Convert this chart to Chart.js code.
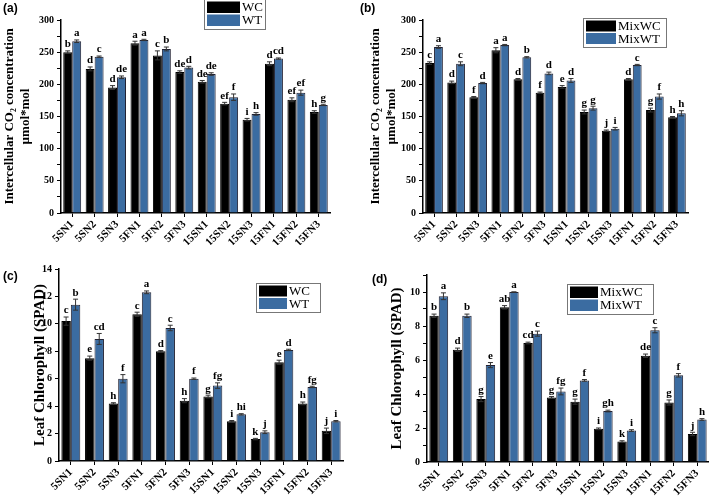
<!DOCTYPE html>
<html>
<head>
<meta charset="utf-8">
<script src="https://cdn.jsdelivr.net/npm/chart.js@4.4.0/dist/chart.umd.min.js"></script>
<style>
body{margin:0;background:#fff;width:709px;height:496px;overflow:hidden;position:relative}
canvas{position:absolute}
.letra{position:absolute;font:bold 12px "Liberation Sans", Arial, sans-serif;color:#000}
</style>
</head>
<body>
<canvas id="g1" width="355" height="245" style="left:0;top:0"></canvas>
<canvas id="g2" width="354" height="245" style="left:355px;top:0"></canvas>
<canvas id="g3" width="355" height="251" style="left:0;top:245px"></canvas>
<canvas id="g4" width="354" height="251" style="left:355px;top:245px"></canvas>
<div class="letra" style="left:3px;top:1px">(a)</div>
<div class="letra" style="left:360px;top:1px">(b)</div>
<div class="letra" style="left:3px;top:269px">(c)</div>
<div class="letra" style="left:372px;top:272px">(d)</div>
<script>
const categorias = ['5SN1','5SN2','5SN3','5FN1','5FN2','5FN3','15SN1','15SN2','15SN3','15FN1','15FN2','15FN3'];

// (a) CO2 intercelular, WC / WT
const ciWC = [250,224,195,264,245,219,204,170,145,232,176,157];
const ciWCerr = [2,3,3,3,7,2,2,2,2,3,3,2];
const ciWCletras = ['b','d','d','a','c','de','de','ef','i','d','ef','h'];
const ciWT = [267,243,211,269,255,226,216,180,154,240,187,168];
const ciWTerr = [2,1,2,1,3,2,2,5,2,1,4,1];
const ciWTletras = ['a','c','de','a','b','d','de','f','h','cd','ef','g'];

// (b) CO2 intercelular, MixWC / MixWT
const ciMixWC = [233,203,180,253,208,187,196,157,128,208,160,149];
const ciMixWCerr = [2,2,1,4,1,1,2,3,1,1,3,1];
const ciMixWCletras = ['c','d','f','a','d','f','e','g','j','d','g','h'];
const ciMixWT = [258,232,202,261,242,217,206,163,131,230,181,155];
const ciMixWTerr = [2,3,1,1,1,2,3,3,2,1,4,4];
const ciMixWTletras = ['a','c','d','a','b','d','d','g','i','c','f','h'];

// (c) clorofila, WC / WT
const clWC = [10.2,7.5,4.2,10.7,8.0,4.4,4.7,2.9,1.6,7.2,4.2,2.2];
const clWCerr = [0.3,0.15,0.05,0.15,0.05,0.15,0.1,0.05,0.05,0.15,0.1,0.2];
const clWCletras = ['c','e','h','c','d','h','g','i','k','e','h','j'];
const clWT = [11.4,8.9,6.0,12.3,9.7,6.0,5.5,3.4,2.1,8.1,5.4,2.9];
const clWTerr = [0.4,0.4,0.3,0.1,0.2,0.05,0.2,0.05,0.1,0.05,0.05,0.05];
const clWTletras = ['b','cd','f','a','c','f','fg','hi','j','d','fg','i'];

// (d) clorofila, MixWC / MixWT
const clMixWC = [8.6,6.6,3.7,9.1,7.0,3.8,3.55,1.95,1.2,6.25,3.5,1.65];
const clMixWCerr = [0.1,0.1,0.15,0.1,0.05,0.05,0.15,0.05,0.05,0.1,0.15,0.1];
const clMixWCletras = ['b','d','g','ab','cd','g','g','i','k','de','g','j'];
const clMixWT = [9.75,8.6,5.7,10.0,7.55,4.15,4.8,3.0,1.85,7.75,5.1,2.5];
const clMixWTerr = [0.2,0.1,0.15,0,0.15,0.2,0.05,0.05,0.05,0.15,0.1,0.05];
const clMixWTletras = ['a','b','e','a','c','fg','f','gh','i','c','f','h'];

const azul = '#3b6ca1';
const serif = '"Liberation Serif", "Times New Roman", serif';

// barras de error y letras encima de cada barra
const pluginErrores = {
    id: 'barrasError',
    afterDatasetsDraw(chart) {
        const ctx = chart.ctx;
        const y = chart.scales.y;
        ctx.save();
        chart.data.datasets.forEach((ds, i) => {
            const meta = chart.getDatasetMeta(i);
            meta.data.forEach((barra, j) => {
                const v = ds.data[j];
                const e = ds.errores[j];
                const arriba = y.getPixelForValue(v + e);
                const abajo = y.getPixelForValue(v - e);
                const x = barra.x;
                ctx.strokeStyle = '#333';
                ctx.lineWidth = 1;
                ctx.beginPath();
                ctx.moveTo(x, arriba); ctx.lineTo(x, abajo);
                ctx.moveTo(x - 2.5, arriba); ctx.lineTo(x + 2.5, arriba);
                ctx.moveTo(x - 2.5, abajo); ctx.lineTo(x + 2.5, abajo);
                ctx.stroke();
                ctx.fillStyle = '#000';
                ctx.font = 'bold 11px ' + serif;
                ctx.textAlign = 'center';
                ctx.textBaseline = 'bottom';
                ctx.fillText(ds.letras[j], x, arriba - 1);
            });
        });
        ctx.restore();
    }
};

// leyenda con marco
const pluginLeyenda = {
    id: 'cajaLeyenda',
    afterDraw(chart, args, op) {
        const ctx = chart.ctx;
        ctx.save();
        ctx.fillStyle = '#fff';
        ctx.fillRect(op.x, op.y, op.w, op.h);
        ctx.strokeStyle = '#777';
        ctx.lineWidth = 1;
        ctx.strokeRect(op.x + 0.5, op.y + 0.5, op.w, op.h);
        const fila = (op.h - 4) / 2;
        chart.data.datasets.forEach((ds, i) => {
            const fy = op.y + 2.5 + i * fila;
            ctx.fillStyle = ds.backgroundColor;
            ctx.fillRect(op.x + 3, fy, op.sw, fila - 1.5);
            ctx.fillStyle = '#000';
            ctx.font = '13px ' + serif;
            ctx.textAlign = 'left';
            ctx.textBaseline = 'middle';
            ctx.fillText(ds.label, op.x + op.sw + 5, fy + fila / 2);
        });
        ctx.restore();
    }
};

function crearGrafica(id, nombres, serieA, serieB, c) {
    const ctx = document.getElementById(id).getContext('2d');
    return new Chart(ctx, {
        type: 'bar',
        data: {
            labels: categorias,
            datasets: [{
                label: nombres[0],
                data: serieA.valores,
                errores: serieA.errores,
                letras: serieA.letras,
                backgroundColor: '#000',
                borderColor: '#000',
                borderWidth: 1,
                categoryPercentage: 0.8,
                barPercentage: 1
            }, {
                label: nombres[1],
                data: serieB.valores,
                errores: serieB.errores,
                letras: serieB.letras,
                backgroundColor: azul,
                borderColor: '#223',
                borderWidth: 1,
                categoryPercentage: 0.8,
                barPercentage: 1
            }]
        },
        options: {
            responsive: false,
            animation: false,
            layout: { padding: { top: c.arriba, right: c.derecha, left: 0, bottom: 0 } },
            plugins: {
                legend: { display: false },
                tooltip: { enabled: false },
                cajaLeyenda: c.leyenda
            },
            scales: {
                x: {
                    offset: true,
                    grid: { drawOnChartArea: false, offset: false, tickLength: 4, color: '#000' },
                    border: { color: '#000', width: 1.5 },
                    ticks: {
                        autoSkip: false, minRotation: 45, maxRotation: 45, padding: 1,
                        color: '#000', font: { family: serif, weight: 'bold', size: 11 }
                    },
                    afterFit: function (s) { s.height = c.altoX; }
                },
                y: {
                    min: 0,
                    max: c.max,
                    grid: { drawOnChartArea: false, tickLength: 4, color: '#000' },
                    border: { color: '#000', width: 1.5 },
                    ticks: {
                        stepSize: c.paso,
                        padding: 3,
                        color: '#000',
                        font: { family: serif, weight: 'bold', size: 10 },
                        callback: function (v) { return v % c.cada === 0 ? v : ''; }
                    },
                    title: {
                        display: true,
                        text: c.titulo,
                        color: '#000',
                        font: { family: serif, weight: 'bold', size: c.tamTitulo, lineHeight: 1.2 },
                        padding: { top: c.padTitulo, bottom: 0 }
                    },
                    afterFit: function (s) { s.width = c.anchoY; }
                }
            }
        },
        plugins: [pluginErrores, pluginLeyenda]
    });
}

const tituloCO2 = ['Intercellular CO\u2082 concentration', '\u00b5mol*mol'];
const tituloCl = 'Leaf Chlorophyll (SPAD)';

crearGrafica('g1', ['WC', 'WT'],
    { valores: ciWC, errores: ciWCerr, letras: ciWCletras },
    { valores: ciWT, errores: ciWTerr, letras: ciWTletras },
    { max: 300, paso: 25, cada: 50, titulo: tituloCO2, tamTitulo: 13, padTitulo: 2,
      anchoY: 61, altoX: 32, arriba: 20, derecha: 25,
      leyenda: { x: 204, y: -1, w: 61, h: 30, sw: 33 } });

crearGrafica('g2', ['MixWC', 'MixWT'],
    { valores: ciMixWC, errores: ciMixWCerr, letras: ciMixWCletras },
    { valores: ciMixWT, errores: ciMixWTerr, letras: ciMixWTletras },
    { max: 300, paso: 25, cada: 50, titulo: tituloCO2, tamTitulo: 13, padTitulo: 13,
      anchoY: 68, altoX: 32, arriba: 20, derecha: 21,
      leyenda: { x: 228, y: 18, w: 83, h: 29, sw: 30 } });

crearGrafica('g3', ['WC', 'WT'],
    { valores: clWC, errores: clWCerr, letras: clWCletras },
    { valores: clWT, errores: clWTerr, letras: clWTletras },
    { max: 14, paso: 1, cada: 2, titulo: tituloCl, tamTitulo: 15, padTitulo: 31,
      anchoY: 59, altoX: 35, arriba: 24, derecha: 12,
      leyenda: { x: 256, y: 38, w: 64, h: 29, sw: 28 } });

crearGrafica('g4', ['MixWC', 'MixWT'],
    { valores: clMixWC, errores: clMixWCerr, letras: clMixWCletras },
    { valores: clMixWT, errores: clMixWTerr, letras: clMixWTletras },
    { max: 11, paso: 1, cada: 2, titulo: tituloCl, tamTitulo: 15, padTitulo: 33,
      anchoY: 72, altoX: 34, arriba: 30, derecha: 0,
      leyenda: { x: 212, y: 39, w: 86, h: 30, sw: 28 } });
</script>
</body>
</html>
